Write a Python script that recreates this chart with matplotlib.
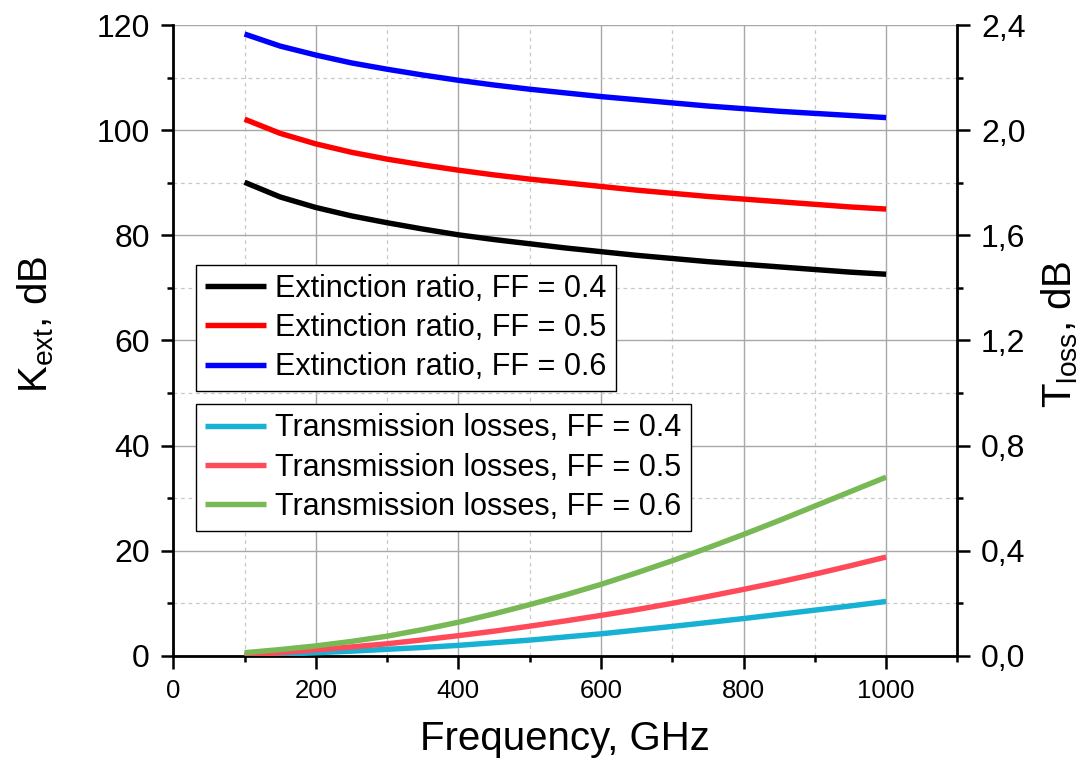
import matplotlib
matplotlib.use("Agg")
import matplotlib.pyplot as plt
from matplotlib.ticker import MultipleLocator, FuncFormatter

plt.rcParams['font.family'] = ['Liberation Sans', 'DejaVu Sans']
plt.rcParams['mathtext.fontset'] = 'custom'
plt.rcParams['mathtext.rm'] = 'Liberation Sans'
plt.rcParams['mathtext.it'] = 'Liberation Sans:italic'

freq = [100, 150, 200, 250, 300, 350, 400, 450, 500, 550, 600,
        650, 700, 750, 800, 850, 900, 950, 1000]

ext_04 = [90.1, 87.3, 85.3, 83.7, 82.4, 81.2, 80.1, 79.2, 78.4, 77.6, 76.9,
          76.2, 75.6, 75.0, 74.5, 74.0, 73.5, 73.0, 72.6]
ext_05 = [102.1, 99.4, 97.4, 95.8, 94.5, 93.4, 92.4, 91.5, 90.7, 90.0, 89.3,
          88.6, 88.0, 87.4, 86.9, 86.4, 85.9, 85.4, 85.0]
ext_06 = [118.3, 116.0, 114.3, 112.8, 111.6, 110.5, 109.5, 108.6, 107.8, 107.1, 106.4,
          105.8, 105.2, 104.6, 104.1, 103.6, 103.2, 102.8, 102.4]

loss_04 = [0.002, 0.006, 0.012, 0.018, 0.025, 0.032, 0.040, 0.050, 0.060, 0.072, 0.084,
           0.098, 0.112, 0.127, 0.142, 0.158, 0.174, 0.190, 0.207]
loss_05 = [0.004, 0.012, 0.023, 0.034, 0.046, 0.061, 0.077, 0.094, 0.113, 0.133, 0.154,
           0.176, 0.200, 0.226, 0.253, 0.281, 0.311, 0.343, 0.376]
loss_06 = [0.012, 0.024, 0.038, 0.055, 0.075, 0.100, 0.128, 0.160, 0.195, 0.232, 0.272,
           0.316, 0.362, 0.411, 0.462, 0.515, 0.570, 0.625, 0.680]

ext_labels = ['Extinction ratio, FF = 0.4', 'Extinction ratio, FF = 0.5', 'Extinction ratio, FF = 0.6']
loss_labels = ['Transmission losses, FF = 0.4', 'Transmission losses, FF = 0.5', 'Transmission losses, FF = 0.6']

fig = plt.figure(figsize=(10.83, 7.6), dpi=100)
ax = fig.add_axes([0.16, 0.137, 0.724, 0.830])
ax2 = ax.twinx()

lw = 3.9
ext_colors = ['#000000', '#FF0000', '#0000FF']
loss_colors = ['#17B1D3', '#FF4A5A', '#78B955']

ext_lines = []
for ys, c, lab in zip([ext_04, ext_05, ext_06], ext_colors, ext_labels):
    l, = ax.plot(freq, ys, color=c, lw=lw, label=lab, solid_capstyle='butt')
    ext_lines.append(l)
loss_lines = []
for ys, c, lab in zip([loss_04, loss_05, loss_06], loss_colors, loss_labels):
    l, = ax2.plot(freq, ys, color=c, lw=lw, label=lab, solid_capstyle='butt')
    loss_lines.append(l)

ax.set_xlim(0, 1100)
ax.set_ylim(0, 120)
ax2.set_ylim(0, 2.4)

ax.xaxis.set_major_locator(MultipleLocator(200))
ax.xaxis.set_minor_locator(MultipleLocator(100))
ax.yaxis.set_major_locator(MultipleLocator(20))
ax.yaxis.set_minor_locator(MultipleLocator(10))
ax2.yaxis.set_major_locator(MultipleLocator(0.4))
ax2.yaxis.set_minor_locator(MultipleLocator(0.2))
ax2.yaxis.set_major_formatter(FuncFormatter(lambda v, p: f"{v:.1f}".replace('.', ',')))

ax.grid(which='major', color='#a8a8a8', lw=1.0, ls='-')
ax.grid(which='minor', color='#c8c8c8', lw=0.9, ls=(0, (3, 3)))
ax.set_axisbelow(True)

for a in (ax, ax2):
    a.spines['top'].set_visible(False)
    for s in a.spines.values():
        s.set_linewidth(2.0)
    a.tick_params(which='major', direction='out', length=9, width=1.8, labelsize=23, pad=8)
    a.tick_params(which='minor', direction='out', length=4.5, width=1.8)
ax.spines['right'].set_visible(False)
ax2.spines['left'].set_visible(False)
ax2.spines['bottom'].set_visible(False)
ax.tick_params(axis='x', labelsize=18.5, pad=8)

ax.set_xlabel('Frequency, GHz', fontsize=29, labelpad=12)
ax.set_ylabel(r'K$_{\mathregular{ext}}$, dB', fontsize=29)
ax.yaxis.set_label_coords(-0.150, 0.525)
ax2.set_ylabel(r'T$_{\mathregular{loss}}$, dB', fontsize=29)
ax2.yaxis.set_label_coords(1.104, 0.51)

leg_kw = dict(loc='upper left', fontsize=22, frameon=True, fancybox=False,
              edgecolor='#000000', framealpha=1, borderaxespad=0, handlelength=2.0,
              handletextpad=0.3, labelspacing=0.3, borderpad=0.3)
leg1 = ax2.legend(handles=ext_lines, bbox_to_anchor=(0.029, 0.620), **leg_kw)
leg1.get_frame().set_linewidth(1.0)
ax2.add_artist(leg1)
leg2 = ax2.legend(handles=loss_lines, bbox_to_anchor=(0.029, 0.399), **leg_kw)
leg2.get_frame().set_linewidth(1.0)

fig.savefig('out.png', dpi=100)
